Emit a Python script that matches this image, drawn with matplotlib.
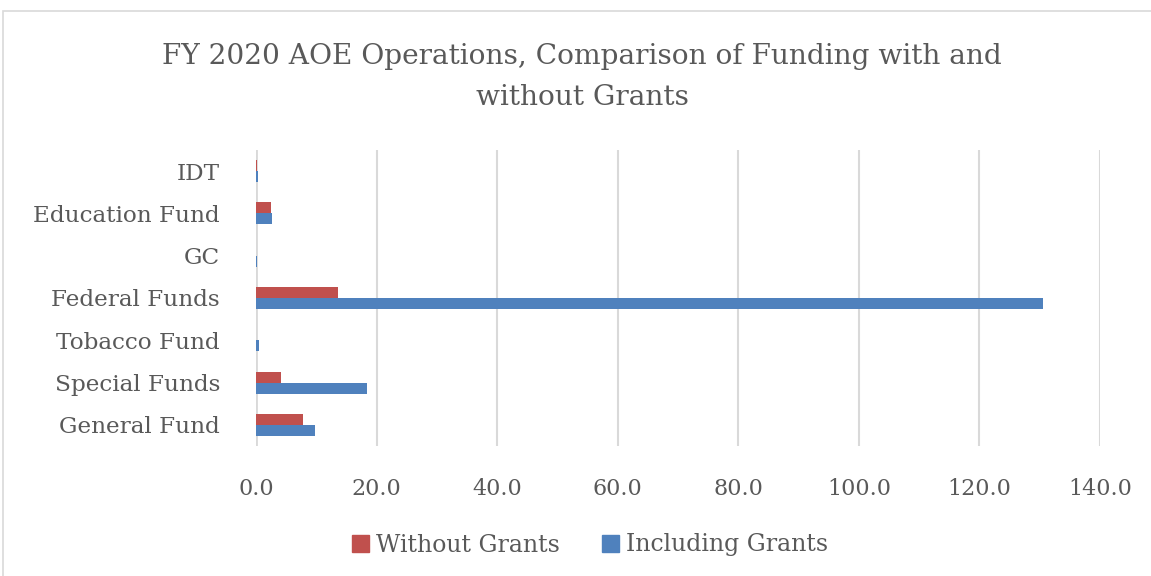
import matplotlib
matplotlib.use("Agg")
import matplotlib.pyplot as plt
from matplotlib.patches import Rectangle, Patch
import numpy as np

categories = ["General Fund", "Special Funds", "Tobacco Fund", "Federal Funds", "GC", "Education Fund", "IDT"]
without_grants = [7.8, 4.1, 0.05, 13.6, 0.0, 2.5, 0.2]
including_grants = [9.8, 18.4, 0.5, 130.5, 0.1, 2.6, 0.3]
xticks = [0, 20, 40, 60, 80, 100, 120, 140]
title = "FY 2020 AOE Operations, Comparison of Funding with and\nwithout Grants"

plt.rcParams['font.family'] = ['DejaVu Serif']
TXT = "#595959"
RED = "#c0504d"
BLUE = "#4f81bd"

fig = plt.figure(figsize=(11.51, 5.76), dpi=100)
W, H = 1151, 576
ax = fig.add_axes([256 / W, 1 - 446 / H, (1100 - 256) / W, (446 - 150) / H])

y = np.arange(len(categories))
h = 0.26
ax.barh(y + h / 2, without_grants, height=h, color=RED, label="Without Grants", zorder=3)
ax.barh(y - h / 2, including_grants, height=h, color=BLUE, label="Including Grants", zorder=3)

ax.set_ylim(-0.5, len(categories) - 0.5)
ax.set_xlim(0, 140)
ax.set_xticks(xticks)
ax.set_xticklabels([f"{v:.1f}" for v in xticks])
ax.set_yticks(y)
ax.set_yticklabels(categories)
ax.tick_params(axis='x', length=0, labelsize=16, colors=TXT, pad=23)
ax.tick_params(axis='y', length=0, labelsize=16.7, colors=TXT, pad=26)
ax.grid(axis='x', color="#d9d9d9", linewidth=1.5, zorder=0)
for s in ax.spines.values():
    s.set_visible(False)
ax.axvline(0, color="#d9d9d9", linewidth=2, zorder=1)

fig.text(582 / W, 1 - 77 / H, title, ha='center', va='center', fontsize=20.2, color=TXT, linespacing=1.65)

handles = [Patch(color=RED), Patch(color=BLUE)]
fig.legend(handles, ["Without Grants", "Including Grants"], loc='center', bbox_to_anchor=(590 / W, 1 - 545 / H),
           ncol=2, frameon=False, fontsize=17, labelcolor=TXT, handlelength=0.7, handleheight=0.7,
           handletextpad=0.3, columnspacing=1.8)

fig.patches.append(Rectangle((3 / W, -0.1), 1.2, 1 - 11 / H + 0.1, transform=fig.transFigure,
                             fill=False, edgecolor="#d9d9d9", linewidth=1.2))

fig.savefig("out.png", dpi=100)
